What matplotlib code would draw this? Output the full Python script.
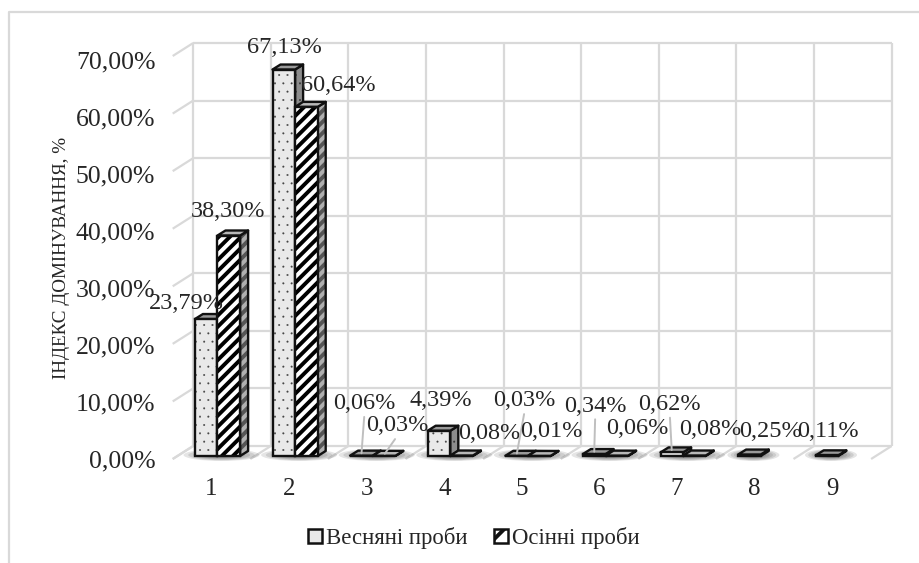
import matplotlib
matplotlib.use("Agg")
import matplotlib.pyplot as plt
from matplotlib.patches import Polygon, Patch, Ellipse
from matplotlib.transforms import ScaledTranslation

plt.rcParams['font.family'] = ['Liberation Serif', 'DejaVu Serif']
plt.rcParams['hatch.linewidth'] = 2.8

categories = [1, 2, 3, 4, 5, 6, 7, 8, 9]
spring = [23.79, 67.13, 0.06, 4.39, 0.03, 0.34, 0.62, 0.25, 0.11]
autumn = [38.30, 60.64, 0.03, 0.08, 0.01, 0.06, 0.08, None, None]
spring_name = "Весняні проби"
autumn_name = "Осінні проби"
y_title = "ІНДЕКС ДОМІНУВАННЯ, %"
y_ticks = [0, 10, 20, 30, 40, 50, 60, 70]

# label offsets from the bar top, in pixels (manual layout in the source chart)
spring_off = [(-20, 15), (1, 21), (3, 51), (2, 29), (8, 54), (1, 47), (-2, 47), (21, 22), (1, 23)]
autumn_off = [(-1, 23), (32, 20), (13, 29), (28, 21), (12, 23), (21, 26), (16, 25)]
spring_lead = [False, False, True, False, True, True, True, False, False]
autumn_lead = [False, False, True, False, False, False, False]

W, H = 920, 563
L, R, T, B = 172.7, 871.1, 56.0, 459.0
fig = plt.figure(figsize=(W / 100, H / 100), dpi=100)
ax = fig.add_axes([L / W, 1 - B / H, (R - L) / W, (B - T) / H])
ax.set_xlim(0.5, 9.5)
ax.set_ylim(0, 70)
ax.patch.set_alpha(0)
for s in ax.spines.values():
    s.set_visible(False)

PX = (R - L) / 9          # pixels per category
PY = (B - T) / 70         # pixels per percent
ddx = lambda p: p / PX
ddy = lambda p: p / PY

GRID = '#d9d9d9'
TXT = '#262626'
WX, WY = ddx(20.5), ddy(13)     # depth of the chart box
OX, OY = ddx(6.0), ddy(3)       # bar front offset from front plane
BX, BY = ddx(8), ddy(5)         # bar depth
BW = ddx(22.6)
EDGE = '#111111'
ELW = 1.7

# outer frame (top and left edges are visible in the picture)
fig.add_artist(plt.Line2D([9.5 / W, 9.5 / W, 1], [0, 1 - 12 / H, 1 - 12 / H], color=GRID, lw=1.6))

# walls
gk = dict(color=GRID, lw=1.6, zorder=1, clip_on=False, solid_capstyle='butt')
for t in y_ticks:
    ax.plot([0.5, 0.5 + WX], [t, t + WY], **gk)
    ax.plot([0.5 + WX, 9.5 + WX], [t + WY, t + WY], **gk)
for e in [0.5 + i for i in range(10)]:
    ax.plot([e, e + WX], [0, WY], **gk)
    ax.plot([e + WX, e + WX], [WY, 70 + WY], **gk)

# soft floor shadows
for i, c in enumerate(categories):
    two = autumn[i] is not None
    cx = c + OX + (0 if two else -BW / 2) + BX / 2
    half = ddx(38 if two else 26)
    for k in range(8):
        f = 1 - k / 8
        ax.add_patch(Ellipse((cx, OY + ddy(1)), 2 * half * f, ddy(12) * f, fc='#000000',
                             ec='none', alpha=0.10, zorder=1.5, clip_on=False))


def bar3d(x0, v, face, hatch, hcolor, hlw, side, side_hcolor, top, z):
    y0 = OY
    side_pts = [(x0 + BW, y0), (x0 + BW + BX, y0 + BY), (x0 + BW + BX, y0 + v + BY), (x0 + BW, y0 + v)]
    sp = Polygon(side_pts, fc=side, ec=side_hcolor, hatch=hatch, lw=0, zorder=z, clip_on=False)
    ax.add_patch(sp)
    ax.add_patch(Polygon(side_pts, fc='none', ec=EDGE, lw=ELW, joinstyle='round', zorder=z, clip_on=False))
    ax.add_patch(Polygon([(x0, y0 + v), (x0 + BW, y0 + v), (x0 + BW + BX, y0 + v + BY), (x0 + BX, y0 + v + BY)],
                         fc=top, ec=EDGE, lw=ELW, joinstyle='round', zorder=z, clip_on=False))
    bars = ax.bar(x0, v, BW, bottom=y0, align='edge', color=face, edgecolor=hcolor,
                  hatch=hatch, lw=0, zorder=z + .1, clip_on=False)
    for p in list(bars) + [sp]:
        if hasattr(p, 'set_hatch_linewidth'):
            p.set_hatch_linewidth(hlw)
    ax.bar(x0, v, BW, bottom=y0, align='edge', color='none', edgecolor=EDGE, lw=ELW, zorder=z + .2, clip_on=False)


fmt = lambda v: f"{v:.2f}%".replace('.', ',')
lab = dict(fontsize=17.5, color=TXT, ha='center', va='center', zorder=9, annotation_clip=False)


def put(x, v, off, lead):
    kw = {}
    if lead:
        kw['arrowprops'] = dict(arrowstyle='-', color='#bfbfbf', lw=1.4, shrinkA=0, shrinkB=1,
                                relpos=(0.5, 0))
    ax.annotate(fmt(v), xy=(x, OY + v + ddy(1)), xytext=(off[0] * .72, off[1] * .72),
                textcoords='offset points', **lab, **kw)


for i, c in enumerate(categories):
    base = c + OX - BW
    bar3d(base, spring[i], '#e9e9e9', '..', '#444444', 0.2, '#8c8c8c', '#333333', '#9a9a9a', 3 + i * .01)
    if autumn[i] is not None:
        bar3d(base + BW, autumn[i], '#ffffff', '///', '#000000', 2.8, '#b0b0b0', '#555555', '#b8b8b8', 4 + i * .01)

for i, c in enumerate(categories):
    base = c + OX - BW
    put(base + BW / 2, spring[i], spring_off[i], spring_lead[i])
    if autumn[i] is not None:
        put(base + BW * 1.5, autumn[i], autumn_off[i], autumn_lead[i])

ax.set_xticks(categories)
ax.set_xticklabels([str(c) for c in categories], fontsize=18, color=TXT)
ax.set_yticks(y_ticks)
ax.set_yticklabels([f"{t:.2f}%".replace('.', ',') for t in y_ticks], fontsize=18.5, color=TXT)
ax.tick_params(axis='x', length=0, pad=13.5)
ax.tick_params(axis='y', length=0, pad=12.5)
for t, lbl in zip(y_ticks, ax.get_yticklabels()):
    lbl.set_transform(lbl.get_transform() + ScaledTranslation(0, -(t / 70) * 3.5 / 100, fig.dpi_scale_trans))
fig.text(61 / W, 1 - 258 / H, y_title, rotation=90, fontsize=13.8, color=TXT, ha='center', va='center')

handles = [Patch(facecolor='#e9e9e9', edgecolor=EDGE, lw=1.8, label=spring_name),
           Patch(facecolor='#ffffff', edgecolor=EDGE, lw=1.8, hatch='/', label=autumn_name)]
fig.legend(handles=handles, ncol=2, loc='center', bbox_to_anchor=(474 / W, 1 - 538 / H), frameon=False,
           fontsize=16.4, handlelength=0.6, handleheight=0.6, handletextpad=0.2, columnspacing=1.15,
           labelcolor=TXT)

fig.savefig('out.png', dpi=100)
